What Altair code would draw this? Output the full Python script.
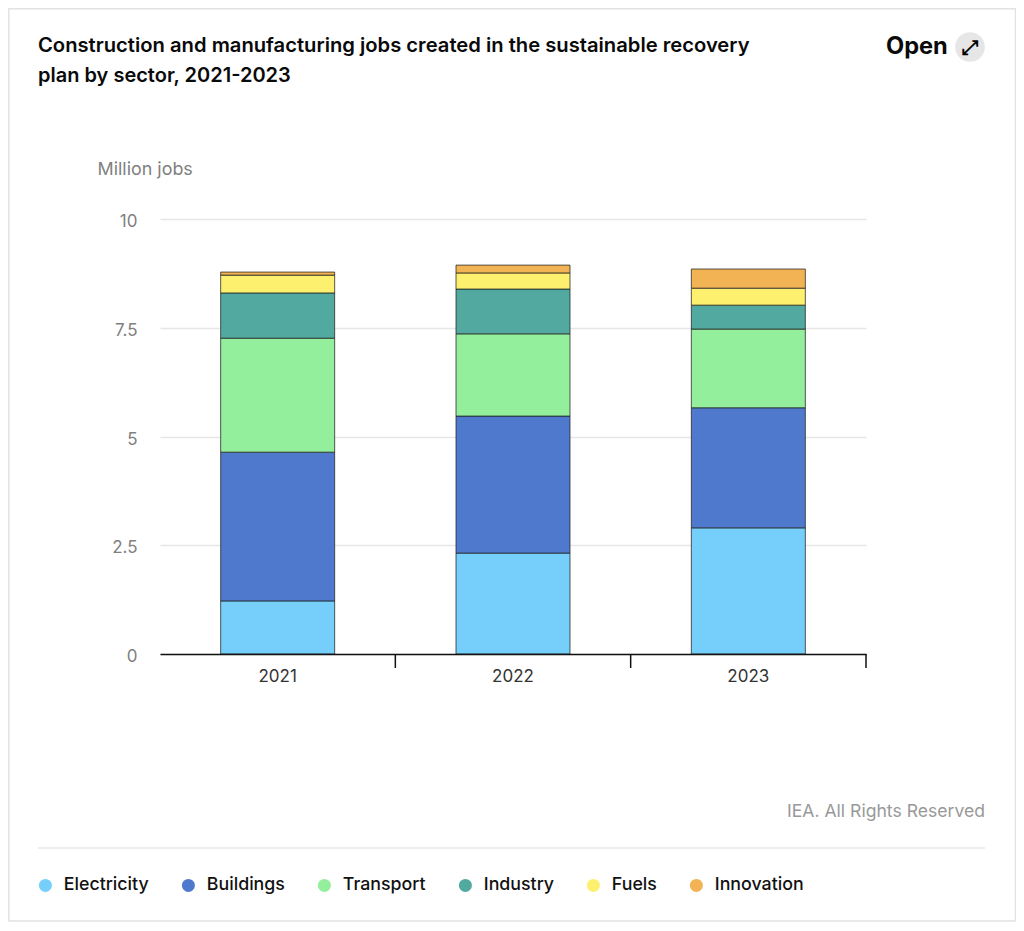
import altair as alt
import pandas as pd

years = ["2021", "2022", "2023"]
sectors = ["Electricity", "Buildings", "Transport", "Industry", "Fuels", "Innovation"]
colors = ["#76CFFB", "#4F79CC", "#93EF9B", "#52A99F", "#FDF06F", "#F2B354"]
electricity = [1.22, 2.32, 2.90]
buildings = [3.42, 3.15, 2.76]
transport = [2.62, 1.89, 1.81]
industry = [1.04, 1.03, 0.55]
fuels = [0.41, 0.37, 0.39]
innovation = [0.07, 0.18, 0.44]
y_ticks = [0, 2.5, 5, 7.5, 10]

series = [electricity, buildings, transport, industry, fuels, innovation]
rows = []
for i, (s, vals) in enumerate(zip(sectors, series)):
    for y, v in zip(years, vals):
        rows.append({"year": y, "sector": s, "value": v, "order": i})
df = pd.DataFrame(rows)

FONT = "Inter"
L, T = 160, 219   # plot origin on the page


def px(v):
    return alt.value(v - L)


def py(v):
    return alt.value(v - T)


one = alt.Data(values=[{"a": 1}])


def label(text, x, y, size, color, weight=400, align="left", font=FONT):
    return alt.Chart(one).mark_text(
        align=align, baseline="alphabetic", fontSize=size, font=font,
        fontWeight=weight, color=color, clip=False
    ).encode(x=px(x), y=py(y), text=alt.value(text))


frame = alt.Chart(one).mark_rect(
    fill="transparent", stroke="#E2E2E2", strokeWidth=1.5
).encode(x=px(8.8), x2=px(1015.5), y=py(8.8), y2=py(921))

separator = alt.Chart(one).mark_rule(color="#E8E8E8", strokeWidth=1.5).encode(
    x=px(38), x2=px(985), y=py(848)
)

x_enc = alt.X(
    "year:N",
    sort=years,
    scale=alt.Scale(paddingInner=0, paddingOuter=0),
    axis=alt.Axis(
        title=None, labelAngle=0, ticks=False, domainColor="#111111", domainWidth=1.5,
        labelFontSize=17, labelColor="#333333", labelFont=FONT, labelPadding=14,
        grid=False, zindex=1,
    ),
)

bars = alt.Chart(df).mark_bar(
    width=114, stroke="#222222", strokeWidth=1, strokeOpacity=0.75
).encode(
    x=x_enc,
    y=alt.Y(
        "value:Q",
        stack="zero",
        scale=alt.Scale(domain=[0, 10], nice=False),
        axis=alt.Axis(
            values=y_ticks, title="Million jobs", titleAngle=0, titleAlign="left",
            titleBaseline="alphabetic", titleX=-63, titleY=-45, titleFont=FONT,
            titleFontSize=17.9, titleFontWeight=400, titleColor="#808080",
            labelFontSize=17, labelColor="#808080", labelFont=FONT, labelPadding=23,
            labelOffset=2.5, labelExpr="datum.value", domain=False, ticks=False,
            grid=True, gridColor="#E6E6E6", gridWidth=1.5,
        ),
    ),
    color=alt.Color(
        "sector:N",
        scale=alt.Scale(domain=sectors, range=colors),
        legend=alt.Legend(
            orient="none", legendX=43.5 - L - 7, legendY=886.5 - T - 10, direction="horizontal",
            title=None, symbolType="circle", symbolSize=170, symbolStrokeWidth=0,
            labelFont=FONT, labelFontSize=17.8, labelFontWeight=500, labelColor="#111111",
            labelOffset=9.5, columnPadding=30, columns=6, gridAlign="none",
        ),
    ),
    order=alt.Order("order:Q"),
)

tick_df = pd.DataFrame({"year": years})
ticks = alt.Chart(tick_df).mark_rule(color="#111111", strokeWidth=1.5).encode(
    x=alt.X("year:N", sort=years, bandPosition=1),
    y=alt.value(435),
    y2=alt.value(449),
)

icon_bg = alt.Chart(one).mark_point(
    shape="circle", filled=True, size=880, color="#E6E6E6", opacity=1
).encode(x=px(970), y=py(47))

chart = alt.layer(
    frame,
    separator,
    bars,
    ticks,
    label("Construction and manufacturing jobs created in the sustainable recovery", 38, 52, 20.2, "#0A0A0A", 600),
    label("plan by sector, 2021-2023", 38, 82, 20, "#0A0A0A", 600),
    label("Open", 886, 54, 23.6, "#0A0A0A", 700),
    icon_bg,
    label("\u2922", 970, 54, 20, "#000000", 700, "center", "DejaVu Sans"),
    label("IEA. All Rights Reserved", 985, 817, 17.6, "#999999", 400, "right"),
).properties(
    width=706,
    height=435,
    autosize=alt.AutoSizeParams(type="none"),
    padding={"left": 152, "top": 211, "right": 150, "bottom": 268},
    background="white",
).configure_view(stroke=None)

chart.save("out.html", embed_options={"renderer": "svg", "actions": False})
